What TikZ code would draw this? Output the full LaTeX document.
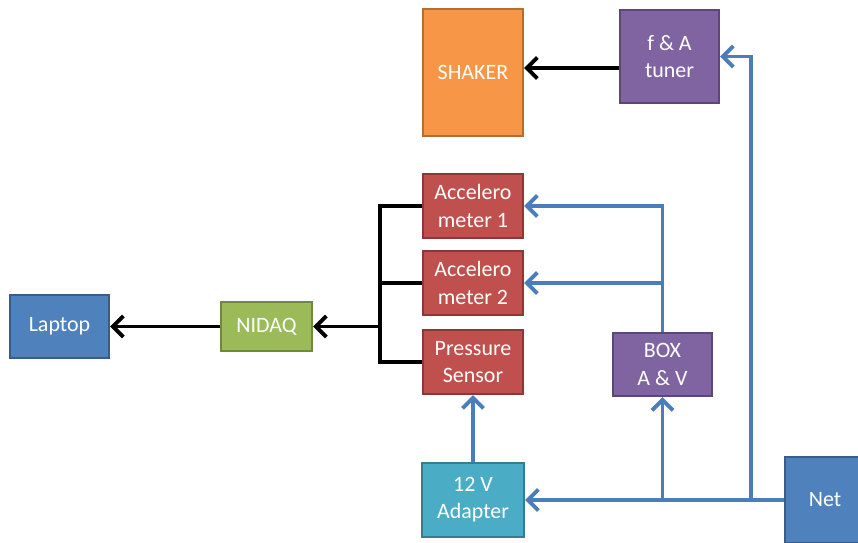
\documentclass[tikz,border=0pt]{standalone}
\usepackage{fontspec}
\setmainfont{Carlito}
\usepackage{xcolor}
\usetikzlibrary{arrows.meta}

\definecolor{lapblue}{HTML}{4F81BD}
\definecolor{lapline}{HTML}{385D8A}
\definecolor{daqgreen}{HTML}{9BBB59}
\definecolor{daqline}{HTML}{71893F}
\definecolor{shakorange}{HTML}{F79646}
\definecolor{shakline}{HTML}{B66D31}
\definecolor{tunpurple}{HTML}{8064A2}
\definecolor{tunline}{HTML}{5C4776}
\definecolor{senred}{HTML}{C0504D}
\definecolor{senline}{HTML}{8C3836}
\definecolor{adteal}{HTML}{4BACC6}
\definecolor{adline}{HTML}{357D91}
\definecolor{wireblue}{HTML}{4A7EBB}

\begin{document}
\begin{tikzpicture}[x=0.02cm,y=-0.02cm,
	block/.style={draw,line width=1.2pt,inner sep=0pt,text=white,align=center,
		font=\fontsize{12.5}{15.5}\selectfont},
	blk/.style={draw=black,line width=2.2pt,-{Straight Barb[length=6pt,width=12pt]}},
	blu/.style={draw=wireblue,line width=2.2pt,-{Straight Barb[length=6pt,width=12pt]}}]
	\useasboundingbox (0,0) rectangle (858,543);

	\node[block,fill=lapblue,draw=lapline,minimum width=1.98cm,minimum height=1.26cm] (laptop) at (59.5,326.5) {Laptop};
	\node[block,fill=daqgreen,draw=daqline,minimum width=1.82cm,minimum height=0.98cm] (nidaq) at (266.5,326.5) {NIDAQ};
	\node[block,fill=shakorange,draw=shakline,minimum width=2cm,minimum height=2.54cm] (shaker) at (473,72.5) {SHAKER};
	\node[block,fill=tunpurple,draw=tunline,minimum width=1.98cm,minimum height=1.86cm] (tuner) at (669.5,56.5) {f \& A\\tuner};
	\node[block,fill=senred,draw=senline,minimum width=2cm,minimum height=1.28cm] (acc1) at (473,206) {Accelero\\meter 1};
	\node[block,fill=senred,draw=senline,minimum width=2cm,minimum height=1.28cm] (acc2) at (473,283) {Accelero\\meter 2};
	\node[block,fill=senred,draw=senline,minimum width=2cm,minimum height=1.28cm] (pres) at (473,362) {Pressure\\Sensor};
	\node[block,fill=tunpurple,draw=tunline,minimum width=1.98cm,minimum height=1.26cm] (box) at (662.5,364.5) {BOX\\A \& V};
	\node[block,fill=adteal,draw=adline,minimum width=2.04cm,minimum height=1.48cm] (adapter) at (473,500) {12 V\\Adapter};
	\node[block,fill=lapblue,draw=lapline,minimum width=1.6cm,minimum height=1.72cm] (net) at (825,500) {Net};

	% black signal lines
	\coordinate (busbot) at (380,362);
	\coordinate (busmid) at (380,326.5);
	\draw[blk,-] (acc1.west) -| (busbot) -- (pres.west);
	\draw[blk,-] (acc2.west) -- (acc2.west -| busbot);
	\draw[blk] (busmid) -- (nidaq.east);
	\draw[blk] (nidaq) -- (laptop);
	\draw[blk] (tuner.west |- 0,68) -- (shaker.east |- 0,68);

	% blue supply lines
	\coordinate (jbox) at (662.5,500);
	\coordinate (jtun) at (751,500);
	\draw[blu] (net.west) -- (adapter.east);
	\draw[blu] (jbox) -- (box.south);
	\draw[blu] (jtun) |- (tuner.east);
	\draw[blu] (adapter) -- (pres);
	\draw[blu] (box.north) |- (acc1.east);
	\draw[blu] (box.north |- acc2.east) -- (acc2.east);
\end{tikzpicture}
\end{document}
